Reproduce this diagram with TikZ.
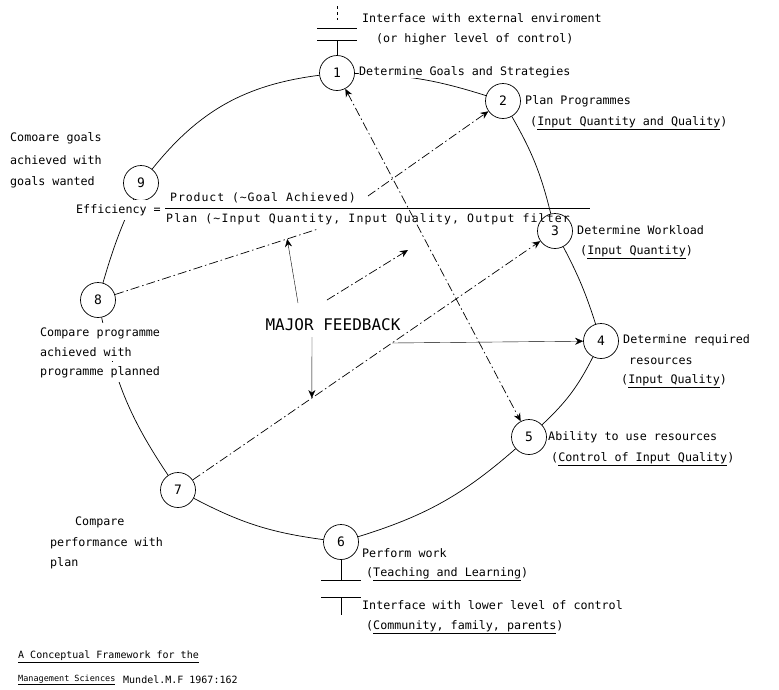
\documentclass[tikz,border=0pt]{standalone}
\usepackage{fontspec}
\setmainfont{DejaVu Sans Mono}
\newfontfamily\ratiofont[LetterSpace=8]{DejaVu Sans Mono}
\newfontfamily\planfont[LetterSpace=10]{DejaVu Sans Mono}
\usetikzlibrary{arrows.meta,calc,positioning}
\tikzset{
  stage/.style={circle,draw,line width=0.7pt,minimum size=35pt,inner sep=0pt,font=\fontsize{13}{15}\selectfont},
  txt/.style={anchor=west,inner sep=0pt,fill=white,font=\fontsize{11.7}{14}\selectfont},
  cover/.style={inner ysep=4pt},
  ratio/.style={anchor=west,inner sep=0pt,font=\ratiofont\fontsize{11.5}{13}\selectfont},
  small/.style={anchor=west,inner sep=0pt,font=\fontsize{10}{12}\selectfont},
  ring/.style={line width=0.7pt},
  fb/.style={line width=0.7pt,dash pattern=on 9pt off 3pt on 1.5pt off 3pt},
  tip/.style={-{Stealth[length=8pt,width=7pt]}},
}
\begin{document}
\begin{tikzpicture}[x=1pt,y=-1pt]
\useasboundingbox (0,0) rectangle (779,689);
% stages round the loop
\node[stage] (n1) at (337,73) {1};
\node[stage] (n2) at (503,101) {2};
\node[stage] (n3) at (555,231) {3};
\node[stage] (n4) at (601,341) {4};
\node[stage] (n5) at (529,437) {5};
\node[stage] (n6) at (341,542) {6};
\node[stage] (n7) at (178,490) {7};
\node[stage] (n8) at (98,300) {8};
\node[stage] (n9) at (141,183) {9};
% the loop
\draw[ring] (n1) to[bend left=8] (n2);
\draw[ring] (n2) to[bend left=8] (n3);
\draw[ring] (n3) to[bend left=5] (n4);
\draw[ring] (n4) to[bend left=10] (n5);
\draw[ring] (n5) to[bend left=12] (n6);
\draw[ring] (n6) to[bend left=10] (n7);
\draw[ring] (n7) to[bend left=11] (n8);
\draw[ring] (n8) to[bend left=4] (n9);
\draw[ring] (n9) to[bend left=22] (n1);
% interfaces
\coordinate (up0) at (337,6);
\coordinate (up1) at (337,20);
\coordinate (up2) at (337,40);
\draw[dashed] (up0) -- (up1);
\draw (317,28) -- (357,28);
\draw (317,40) -- (357,40);
\draw (n1) -- (up2);
\coordinate (lo1) at (341,580);
\coordinate (lo2) at (341,597);
\coordinate (lo3) at (341,615);
\draw (n6) -- (lo1);
\draw (321,580) -- (361,580);
\draw (321,597) -- (361,597);
\draw (lo2) -- (lo3);
% labels
\node[txt] (l0a) at (362,18) {Interface with external enviroment};
\node[txt] (l0b) at (376,39) {(or higher level of control)};
\node[txt] (l1) at (359,72) {Determine Goals and Strategies};
\node[txt] (l2a) at (525,101) {Plan Programmes};
\node[txt] (l2b) at (530,123) {(\underline{Input Quantity and Quality})};
\node[txt] (l3a) at (577,230) {Determine Workload};
\node[txt] (l3b) at (580,252) {(\underline{Input Quantity})};
\node[txt] (l4a) at (623,340) {Determine required};
\node[txt] (l4b) at (629,361) {resources};
\node[txt] (l4c) at (621,381) {(\underline{Input Quality})};
\node[txt] (l5a) at (548,437) {Ability to use resources};
\node[txt] (l5b) at (551,459) {(\underline{Control of Input Quality})};
\node[txt] (l6a) at (362,553) {Perform work};
\node[txt] (l6b) at (366,574) {(\underline{Teaching and Learning})};
\node[txt] (l6c) at (362,605) {Interface with lower level of control};
\node[txt] (l6d) at (366,627) {(\underline{Community, family, parents})};
\node[txt,cover] (l7a) at (75,522) {Compare};
\node[txt,cover] (l7b) at (50,543) {performance with};
\node[txt,cover] (l7c) at (50,563) {plan};
\node[txt,cover] (l8a) at (40,333) {Compare programme};
\node[txt,cover] (l8b) at (40,352) {achieved with};
\node[txt,cover] (l8c) at (40,372) {programme planned};
\node[txt] (l9a) at (10,138) {Comoare goals};
\node[txt] (l9b) at (10,160) {achieved with};
\node[txt] (l9c) at (10,182) {goals wanted};
% efficiency ratio
\node[txt,cover] (eff) at (76,210) {Efficiency =};
\node[ratio] (effn) at (170,198) {Product (\textasciitilde Goal Achieved)};
\node[ratio,font=\planfont\fontsize{11.5}{13}\selectfont] (effd) at (166,219) {Plan (\textasciitilde Input Quantity, Input Quality, Output filter};
\draw (165,208) -- (590,208);
\coordinate (fbin) at (318,229);
\coordinate (fbout) at (368,196);
% major feedback
\node[txt,anchor=center,font=\fontsize{16}{18}\selectfont] (major) at (333,325) {MAJOR FEEDBACK};
\coordinate (m1) at (298,303);
\coordinate (m2) at (312,337);
\coordinate (m3) at (392,343);
\coordinate (m4) at (327,300);
\coordinate (m5) at (408,250);
\coordinate (upt) at ($(n8)!0.86!(fbin)$);
\coordinate (dnt) at ($(n7)!0.355!(n3)$);
\draw[fb] (n8) -- (fbin);
\draw[fb,tip] (fbout) -- (n2);
\draw[fb,tip] (n7) -- (n3);
\draw[fb,tip] (m4) -- (m5);
\draw[fb,{Stealth[length=8pt,width=7pt]}-{Stealth[length=8pt,width=7pt]}] (n1) -- (n5);
\draw[tip] (m1) -- (upt);
\draw[tip] (m2) -- (dnt);
\draw[tip] (m3) -- (n4);
% source
\node[small] (src1) at (18,657) {\underline{A Conceptual Framework for the}};
\node[small,font=\fontsize{8.5}{10}\selectfont] (src2) at (18,680) {\underline{Management Sciences}};
\node[small] (src3) at (123,680) {Mundel.M.F 1967:162};
\end{tikzpicture}
\end{document}
